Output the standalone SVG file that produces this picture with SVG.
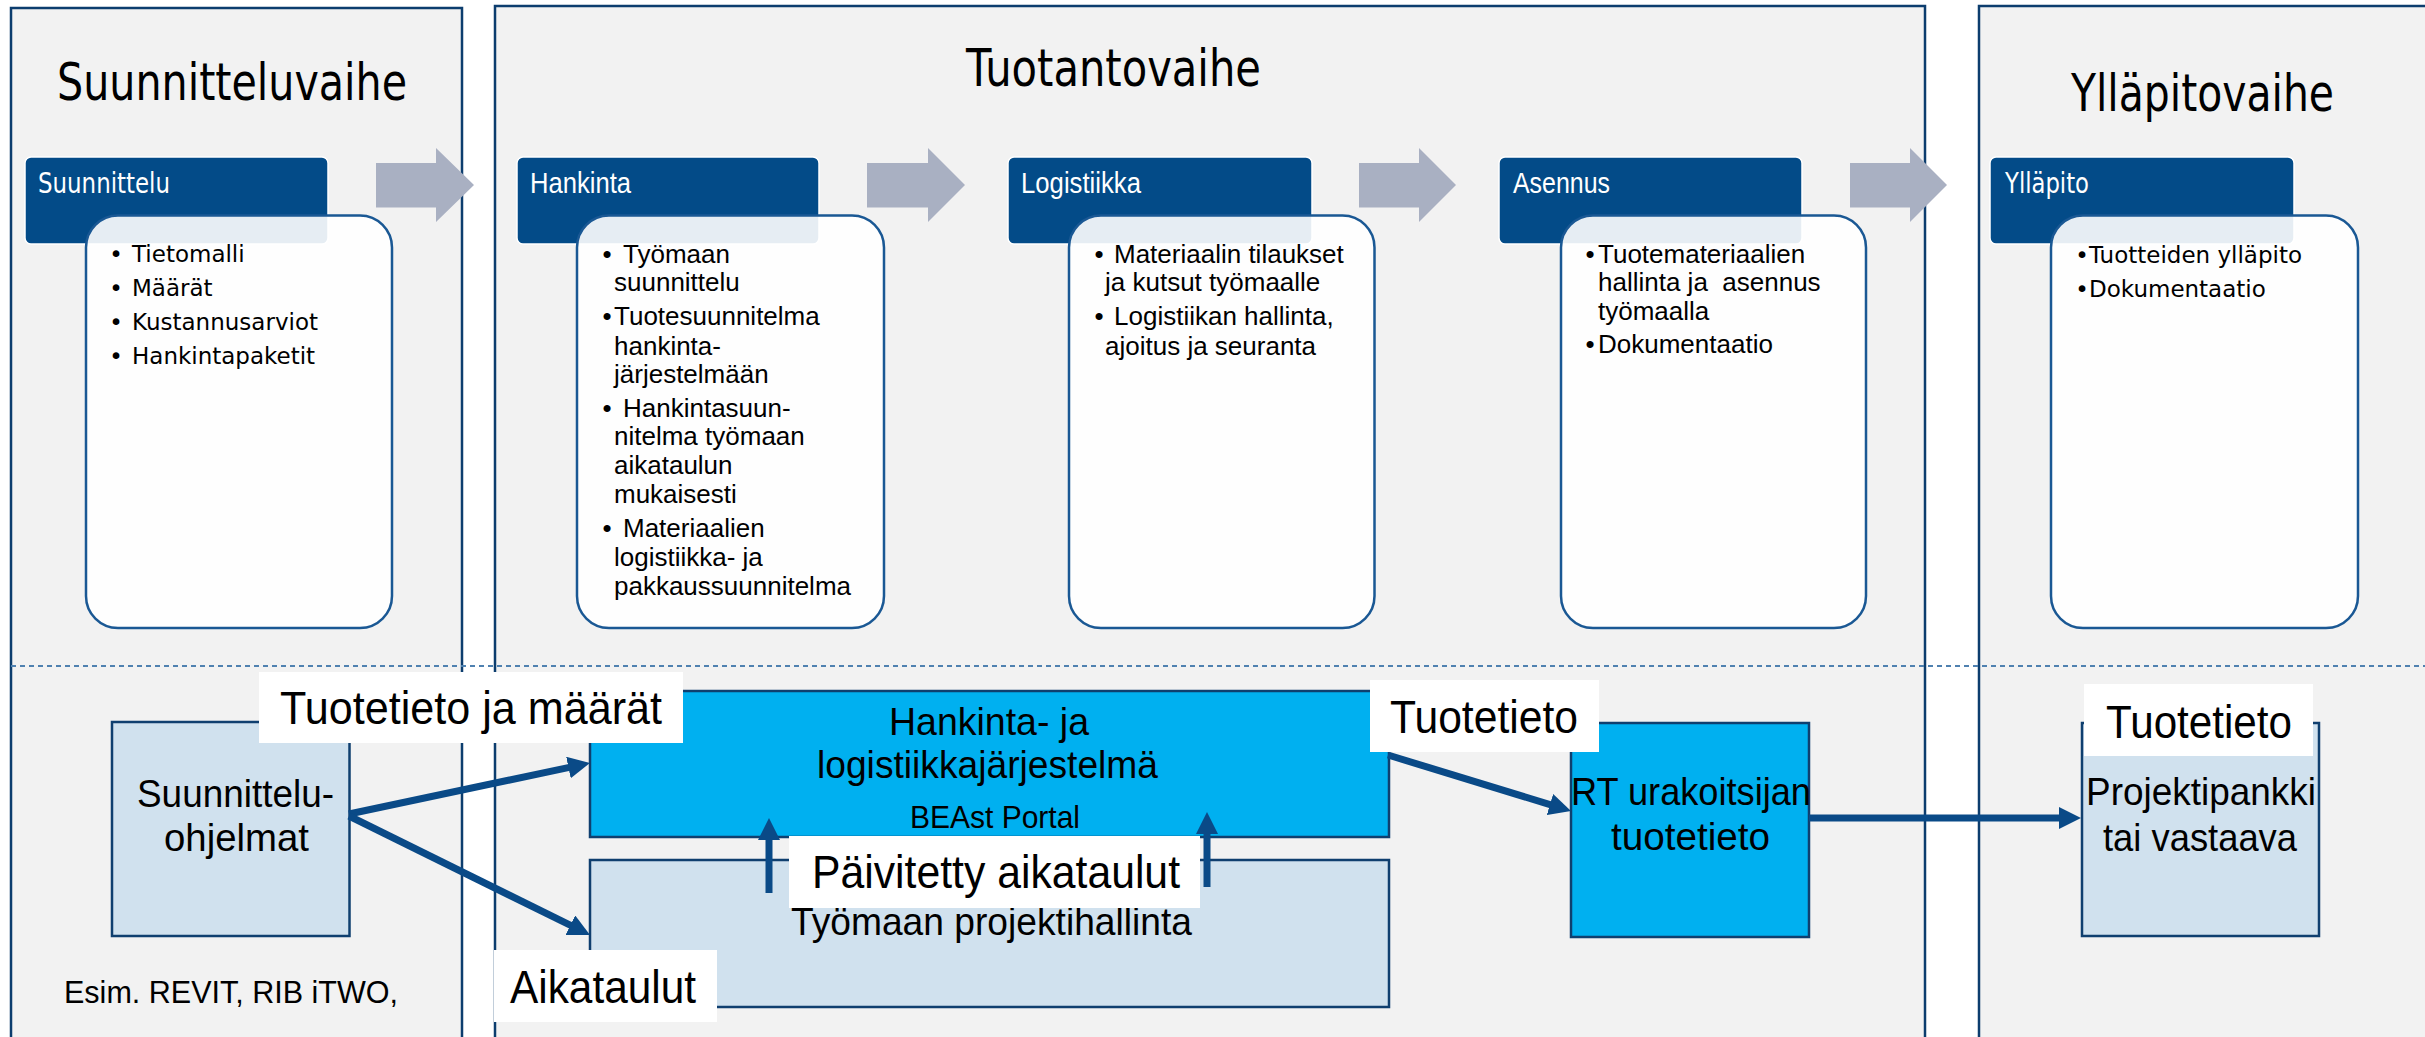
<svg xmlns="http://www.w3.org/2000/svg" width="2425" height="1037" viewBox="0 0 2425 1037">
<style>
.panel{fill:#f2f2f2;stroke:#0c3d6e;stroke-width:2.5}
.title{font-family:"DejaVu Sans","Liberation Sans",sans-serif;font-size:51px;fill:#000}
.hdr{fill:#034b88;stroke:#ffffff;stroke-width:1.5}
.hdrt{font-family:"DejaVu Sans","Liberation Sans",sans-serif;font-size:28px;fill:#fff}
.hdrt2{font-family:"Liberation Sans","DejaVu Sans",sans-serif;font-size:29px;fill:#fff}
.card{fill:#ffffff;fill-opacity:0.9;stroke:#1a5894;stroke-width:2.5}
.vt{font-family:"DejaVu Sans","Liberation Sans",sans-serif;font-size:23px;fill:#000}
.tt{font-family:"Liberation Sans","DejaVu Sans",sans-serif;font-size:26px;fill:#000}
.chev{fill:#a9b0c2}
.lb{fill:#d0e1ee;stroke:#0f3f6f;stroke-width:2.5}
.db{fill:#00b0f0;stroke:#0f3f6f;stroke-width:2.5}
.bt{font-family:"Liberation Sans","DejaVu Sans",sans-serif;font-size:39px;fill:#000}
.lab{fill:#ffffff}
.lt{font-family:"Liberation Sans","DejaVu Sans",sans-serif;font-size:46px;fill:#000}
.con{stroke:#0a4a87;stroke-width:7;fill:none;marker-end:url(#ah)}
</style>
<defs>
<marker id="ah" markerUnits="userSpaceOnUse" viewBox="0 0 22 22" markerWidth="22" markerHeight="22" refX="1" refY="11" orient="auto">
<path d="M0,0 L22,11 L0,22 z" fill="#0a4a87"/>
</marker>
</defs>
<rect x="0" y="0" width="2425" height="1037" fill="#ffffff"/>

<g id="panels">
<rect class="panel" x="11" y="8" width="451" height="1050"/>
<rect class="panel" x="495" y="6" width="1430" height="1050"/>
<rect class="panel" x="1979" y="6" width="480" height="1050"/>
<line x1="11" y1="666" x2="2425" y2="666" stroke="#4f81b0" stroke-width="2" stroke-dasharray="5 4"/>
<text class="title" x="57" y="100" textLength="350" lengthAdjust="spacingAndGlyphs">Suunnitteluvaihe</text>
<text class="title" x="966" y="86" textLength="295" lengthAdjust="spacingAndGlyphs">Tuotantovaihe</text>
<text class="title" x="2071" y="111" textLength="263" lengthAdjust="spacingAndGlyphs">Ylläpitovaihe</text>
</g>

<g id="flow-arrows">
<path class="chev" d="M376,163 H436 V148 L474,185 L436,222 V207.5 H376 z"/>
<path class="chev" d="M867,163 H928 V148 L965,185 L928,222 V207.5 H867 z"/>
<path class="chev" d="M1359,163 H1419 V148 L1456,185 L1419,222 V207.5 H1359 z"/>
<path class="chev" d="M1850,163 H1910 V148 L1947,185 L1910,222 V207.5 H1850 z"/>
</g>

<g id="suunnittelu">
<rect class="hdr" x="25" y="157" width="303" height="87" rx="6"/>
<text class="hdrt" x="38" y="193" textLength="132" lengthAdjust="spacingAndGlyphs">Suunnittelu</text>
<rect class="card" x="86" y="215.5" width="306" height="412.5" rx="32"/>
<text class="vt" x="116" y="262" text-anchor="middle">•</text>
<text class="vt" x="132" y="262">Tietomalli</text>
<text class="vt" x="116" y="296" text-anchor="middle">•</text>
<text class="vt" x="132" y="296">Määrät</text>
<text class="vt" x="116" y="330" text-anchor="middle">•</text>
<text class="vt" x="132" y="330" textLength="186" lengthAdjust="spacingAndGlyphs">Kustannusarviot</text>
<text class="vt" x="116" y="364" text-anchor="middle">•</text>
<text class="vt" x="132" y="364">Hankintapaketit</text>
</g>

<g id="hankinta">
<rect class="hdr" x="517" y="157" width="302" height="87" rx="6"/>
<text class="hdrt2" x="530" y="193" textLength="101" lengthAdjust="spacingAndGlyphs">Hankinta</text>
<rect class="card" x="577" y="215.5" width="307" height="412.5" rx="32"/>
<text class="tt" x="607" y="263" text-anchor="middle">•</text>
<text class="tt" x="623" y="263">Työmaan</text>
<text class="tt" x="614" y="291">suunnittelu</text>
<text class="tt" x="607" y="325" text-anchor="middle">•</text>
<text class="tt" x="614" y="325">Tuotesuunnitelma</text>
<text class="tt" x="614" y="355">hankinta-</text>
<text class="tt" x="614" y="383">järjestelmään</text>
<text class="tt" x="607" y="417" text-anchor="middle">•</text>
<text class="tt" x="623" y="417">Hankintasuun-</text>
<text class="tt" x="614" y="445">nitelma työmaan</text>
<text class="tt" x="614" y="474">aikataulun</text>
<text class="tt" x="614" y="503">mukaisesti</text>
<text class="tt" x="607" y="537" text-anchor="middle">•</text>
<text class="tt" x="623" y="537">Materiaalien</text>
<text class="tt" x="614" y="566">logistiikka- ja</text>
<text class="tt" x="614" y="595" textLength="237" lengthAdjust="spacingAndGlyphs">pakkaussuunnitelma</text>
</g>

<g id="logistiikka">
<rect class="hdr" x="1008" y="157" width="304" height="87" rx="6"/>
<text class="hdrt2" x="1021" y="193" textLength="120" lengthAdjust="spacingAndGlyphs">Logistiikka</text>
<rect class="card" x="1069" y="215.5" width="305.5" height="412.5" rx="32"/>
<text class="tt" x="1099" y="263" text-anchor="middle">•</text>
<text class="tt" x="1114" y="263">Materiaalin tilaukset</text>
<text class="tt" x="1105" y="291">ja kutsut työmaalle</text>
<text class="tt" x="1099" y="325" text-anchor="middle">•</text>
<text class="tt" x="1114" y="325">Logistiikan hallinta,</text>
<text class="tt" x="1105" y="355">ajoitus ja seuranta</text>
</g>

<g id="asennus">
<rect class="hdr" x="1499" y="157" width="303" height="87" rx="6"/>
<text class="hdrt2" x="1513" y="193" textLength="97" lengthAdjust="spacingAndGlyphs">Asennus</text>
<rect class="card" x="1561" y="215.5" width="305" height="412.5" rx="32"/>
<text class="tt" x="1590" y="263" text-anchor="middle">•</text>
<text class="tt" x="1598" y="263">Tuotemateriaalien</text>
<text class="tt" x="1598" y="291" xml:space="preserve">hallinta ja  asennus</text>
<text class="tt" x="1598" y="320">työmaalla</text>
<text class="tt" x="1590" y="353" text-anchor="middle">•</text>
<text class="tt" x="1598" y="353">Dokumentaatio</text>
</g>

<g id="yllapito">
<rect class="hdr" x="1990" y="157" width="304" height="87" rx="6"/>
<text class="hdrt" x="2005" y="193" textLength="84" lengthAdjust="spacingAndGlyphs">Ylläpito</text>
<rect class="card" x="2051" y="215.5" width="307" height="412.5" rx="32"/>
<text class="vt" x="2082" y="263" text-anchor="middle">•</text>
<text class="vt" x="2089" y="263">Tuotteiden ylläpito</text>
<text class="vt" x="2082" y="297" text-anchor="middle">•</text>
<text class="vt" x="2089" y="297">Dokumentaatio</text>
</g>

<g id="suunnitteluohjelmat">
<rect class="lb" x="112" y="722" width="237.5" height="214"/>
<text class="bt" x="137" y="807" textLength="197" lengthAdjust="spacingAndGlyphs">Suunnittelu-</text>
<text class="bt" x="164" y="851" textLength="145" lengthAdjust="spacingAndGlyphs">ohjelmat</text>
</g>
<text class="bt" x="64" y="1003" textLength="334" lengthAdjust="spacingAndGlyphs" style="font-size:32px">Esim. REVIT, RIB iTWO,</text>

<g id="hankintajarjestelma">
<rect class="db" x="590" y="691" width="799" height="146"/>
<text class="bt" x="889" y="735" textLength="200" lengthAdjust="spacingAndGlyphs">Hankinta- ja</text>
<text class="bt" x="817" y="778" textLength="341" lengthAdjust="spacingAndGlyphs">logistiikkajärjestelmä</text>
<text class="bt" x="910" y="828" textLength="170" lengthAdjust="spacingAndGlyphs" style="font-size:32px">BEAst Portal</text>
</g>

<g id="projektihallinta">
<rect class="lb" x="590" y="860" width="799" height="147"/>
<text class="bt" x="791" y="935" textLength="401" lengthAdjust="spacingAndGlyphs">Työmaan projektihallinta</text>
</g>

<g id="rt-tuotetieto">
<rect class="db" x="1571" y="723" width="238" height="214"/>
<text class="bt" x="1571" y="805" textLength="240" lengthAdjust="spacingAndGlyphs">RT urakoitsijan</text>
<text class="bt" x="1611" y="850" textLength="159" lengthAdjust="spacingAndGlyphs">tuotetieto</text>
</g>

<g id="projektipankki">
<rect class="lb" x="2082" y="723" width="237" height="213"/>
<text class="bt" x="2086" y="805" textLength="230" lengthAdjust="spacingAndGlyphs">Projektipankki</text>
<text class="bt" x="2103" y="851" textLength="194" lengthAdjust="spacingAndGlyphs">tai vastaava</text>
</g>

<g id="connectors">
<line class="con" x1="349" y1="814" x2="569.4" y2="767.3"/>
<line class="con" x1="349" y1="816" x2="571.2" y2="925.7"/>
<line class="con" x1="769" y1="893" x2="769" y2="839"/>
<line class="con" x1="1207" y1="887" x2="1207" y2="833"/>
<line class="con" x1="1388" y1="755" x2="1550.9" y2="804.9"/>
<line class="con" x1="1809" y1="818" x2="2060" y2="818"/>
</g>

<g id="labels">
<rect class="lab" x="259" y="672" width="424" height="71"/>
<text class="lt" x="280" y="724" textLength="382" lengthAdjust="spacingAndGlyphs">Tuotetieto ja määrät</text>
<rect class="lab" x="494" y="950" width="223" height="72"/>
<text class="lt" x="510" y="1003" textLength="186" lengthAdjust="spacingAndGlyphs">Aikataulut</text>
<rect class="lab" x="789" y="836" width="411" height="72"/>
<text class="lt" x="812" y="888" textLength="368" lengthAdjust="spacingAndGlyphs">Päivitetty aikataulut</text>
<rect class="lab" x="1370" y="680" width="229" height="72"/>
<text class="lt" x="1390" y="733" textLength="188" lengthAdjust="spacingAndGlyphs">Tuotetieto</text>
<rect class="lab" x="2084" y="684" width="229" height="72"/>
<text class="lt" x="2106" y="738" textLength="186" lengthAdjust="spacingAndGlyphs">Tuotetieto</text>
</g>
</svg>
